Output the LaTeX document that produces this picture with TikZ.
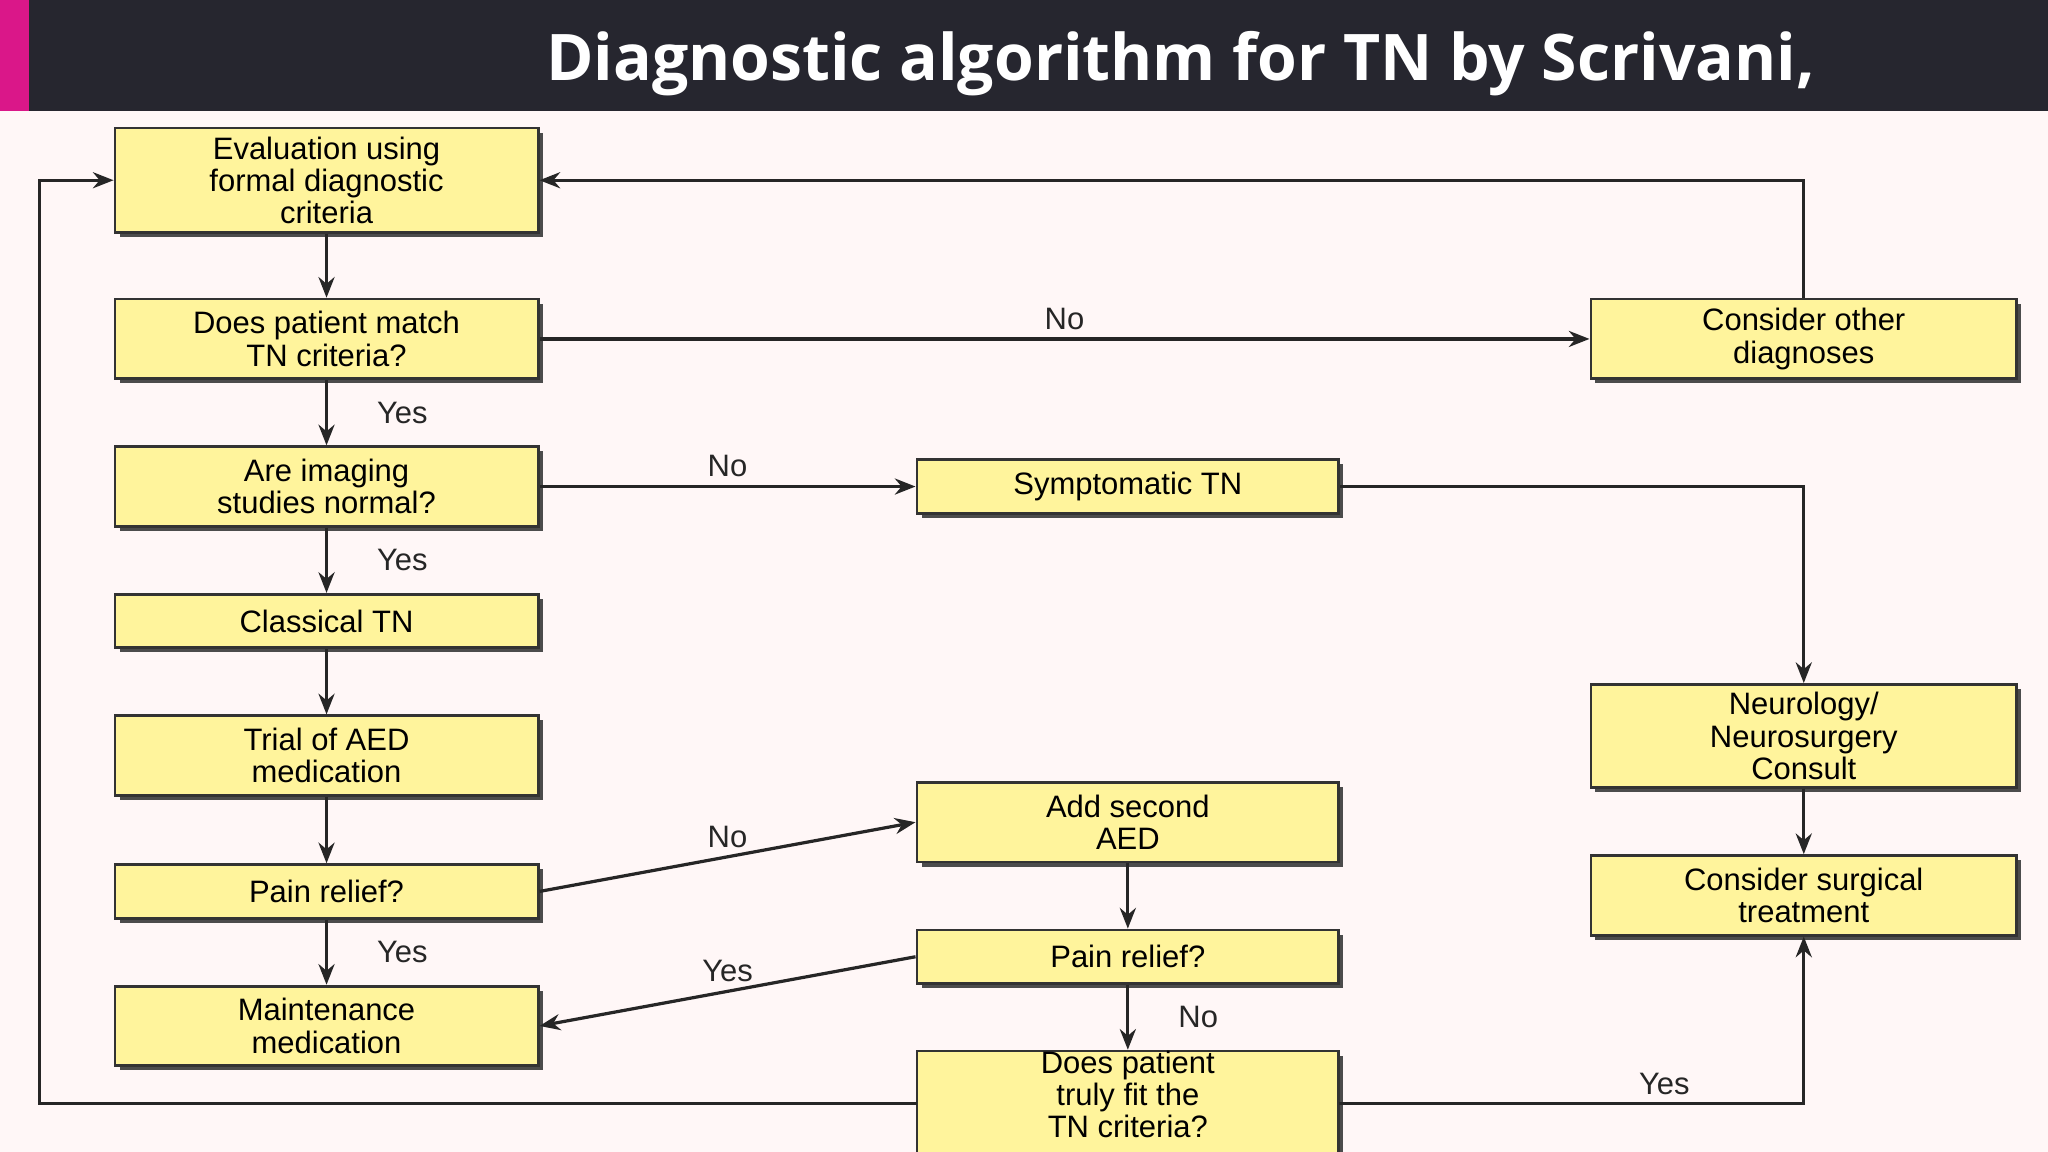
\documentclass[tikz,border=0pt]{standalone}
\usepackage{fontspec}
\setmainfont{Liberation Sans}
\newfontfamily\titlefont{Open Sans}
\usetikzlibrary{arrows.meta}
\begin{document}
\begin{tikzpicture}[x=0.02cm,y=-0.02cm,
  box/.style={draw=black!80,line width=1.2pt,fill=yellow!35!white!95!orange,
    drop shadow={shadow xshift=2pt,shadow yshift=-2pt,fill=black!70,opacity=1},
    align=center,inner sep=0pt,font=\fontsize{13.5}{14}\selectfont},
  ar/.style={-{Stealth[length=9pt,width=7pt]},line width=1.4pt,black!85},
  ln/.style={line width=1.4pt,black!85},
  lab/.style={font=\fontsize{13.5}{14}\selectfont}]
\usetikzlibrary{shadows}
\fill[white!97!red] (0,0) rectangle (1568,882);
\fill[black!80!blue!20!black!85] (22,0) rectangle (1568,85);
\fill[magenta!80!violet] (0,0) rectangle (22,85);
\node[anchor=base west,text=white,font=\titlefont\bfseries\fontsize{28}{30}\selectfont] (title) at (412,62) {Diagnostic algorithm for TN by Scrivani,};
\newcommand{\bx}[6]{\node[box,minimum width=#4*0.02cm-0.02cm*#2,minimum height=#5*0.02cm-0.02cm*#3] (#1) at ({(#2+#4)/2},{(#3+#5)/2}) {#6};}
\bx{A}{88}{98}{412}{178}{Evaluation using\\formal diagnostic\\criteria}
\bx{B}{88}{229}{412}{290}{Does patient match\\TN criteria?}
\bx{C}{88}{342}{412}{403}{Are imaging\\studies normal?}
\bx{D}{88}{455}{412}{496}{Classical TN}
\bx{E}{88}{548}{412}{609}{Trial of AED\\medication}
\bx{F}{88}{662}{412}{703}{Pain relief?}
\bx{G}{88}{755}{412}{816}{Maintenance\\medication}
\bx{H}{1218}{229}{1544}{290}{Consider other\\diagnoses}
\bx{I}{702}{352}{1025}{393}{Symptomatic TN}
\bx{J}{1218}{524}{1544}{603}{Neurology/\\Neurosurgery\\Consult}
\bx{K}{1218}{655}{1544}{716}{Consider surgical\\treatment}
\bx{L}{702}{599}{1025}{660}{Add second\\AED}
\bx{M}{702}{712}{1025}{753}{Pain relief?}
\begin{scope}
\clip (0,0) rectangle (1568,882);
\bx{N}{702}{806}{1025}{905}{Does patient\\truly fit the\\TN criteria?\\[6pt]}
\end{scope}
\draw[ar] (A) -- (B);
\draw[ar] (B) -- node[lab,right=18pt] {Yes} (C);
\draw[ar] (C) -- node[lab,right=18pt] {Yes} (D);
\draw[ar] (D) -- (E);
\draw[ar] (E) -- (F);
\draw[ar] (F) -- node[lab,right=18pt] {Yes} (G);
\draw[ar] (B) -- node[lab,above] {No} (H);
\draw[ar] (H.north) |- (A.east);
\draw[ar] (C) -- node[lab,above,pos=0.5] {No} (I);
\draw[ar] (I.east) -| (J.north);
\draw[ar] (J) -- (K);
\draw[ar] (F.east) -- node[lab,above,pos=0.5] {No} (L.west);
\draw[ar] (L) -- (M);
\draw[ar] (M.west) -- node[lab,above,pos=0.5] {Yes} (G.east);
\draw[ar] (M) -- node[lab,right=18pt] {No} (N);
\coordinate (nr) at (1025,845);
\coordinate (nl) at (702,845);
\draw[ar] (nr) -| node[lab,above,pos=0.35] {Yes} (K.south);
\draw[ar] (nl) -- (30,845) |- (A.west);
\end{tikzpicture}
\end{document}
